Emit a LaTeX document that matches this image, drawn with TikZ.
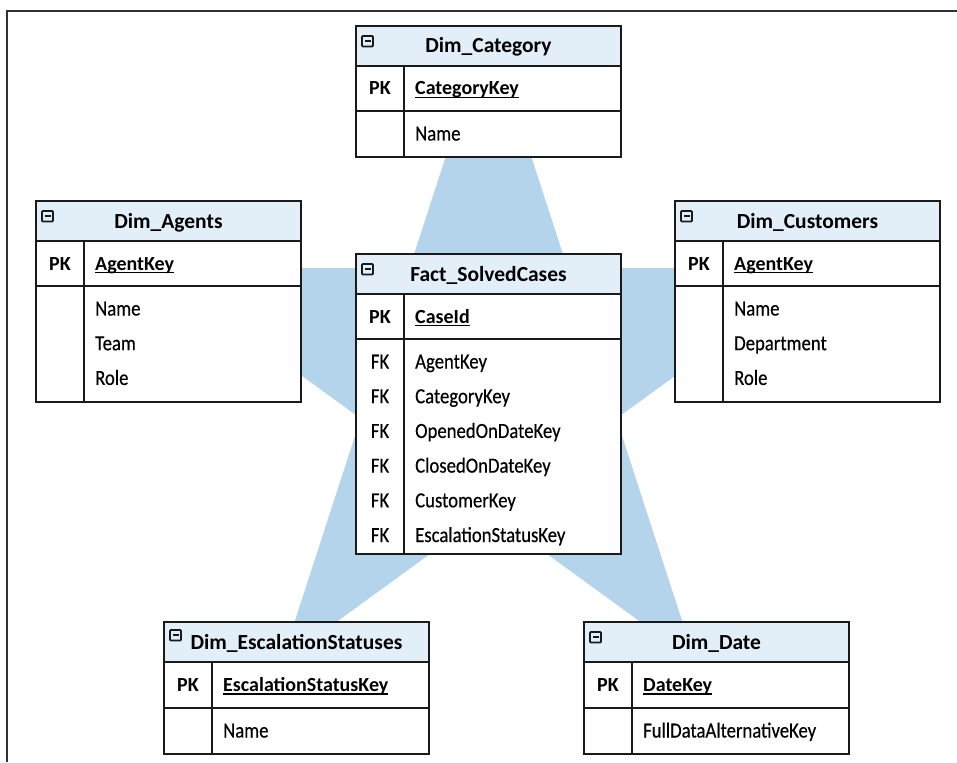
\documentclass[tikz,border=0pt]{standalone}
\usepackage{fontspec}
\setmainfont{Carlito}
\newfontfamily\fieldfont{Carlito}[FakeStretch=0.87, FakeBold=0.4]
\usetikzlibrary{positioning}
\definecolor{starblue}{HTML}{B3D4EA}
\definecolor{headblue}{HTML}{E2EEF8}
\definecolor{edge}{HTML}{1A1A1A}
\newsavebox\keybox
\newcommand{\ukey}[1]{\sbox\keybox{#1}\rlap{\rule[-3.2pt]{\wd\keybox}{1.6pt}}\usebox\keybox}
\tikzset{
  minus box/.pic={
    \draw[edge, line width=1.8pt, rounded corners=0.8pt] (0,0) rectangle (11,10.5);
    \draw[edge, line width=1.8pt] (2.5,5.25) -- (8.5,5.25);
  }
}

\begin{document}
\begin{tikzpicture}[x=1pt, y=-1pt,
  frame/.style={draw=edge!90, line width=1.4pt},
  box/.style={draw=edge, line width=1.8pt, minimum width=265pt, inner sep=0pt, outer sep=0pt},
  head/.style={box, fill=headblue, minimum height=40pt, font=\bfseries\fontsize{21.5}{24}\selectfont, text height=14pt, text depth=0pt},
  row/.style={box, fill=white},
  divider/.style={draw=edge, line width=1.8pt},
  colhead/.style={inner sep=0pt, text height=13pt, text depth=0pt, anchor=center, font=\fontsize{20}{24}\selectfont},
  key/.style={colhead, anchor=west, font=\bfseries\fontsize{20}{24}\selectfont},
  field/.style={colhead, anchor=west, font=\fieldfont\fontsize{21.5}{24}\selectfont}]
\useasboundingbox (0,0) rectangle (957,762);
\draw[frame] (7,762) -- (7,11) -- (957,11);

% star behind the tables
\coordinate (s1) at (488.5,25);
\coordinate (s2) at (153.7,268.2);
\coordinate (s3) at (281.6,661.8);
\coordinate (s4) at (695.4,661.8);
\coordinate (s5) at (823.3,268.2);
\fill[starblue] (s1) -- (s3) -- (s5) -- (s2) -- (s4) -- cycle;

% Dim_Category
\node[head] (cat) at (488.5,46) {Dim\_Category};
\node[row, minimum height=45pt, below=0pt of cat] (catpk) {};
\node[row, minimum height=46pt, below=0pt of catpk] (catrows) {};
\draw[divider] ([xshift=48pt]catpk.north west) -- ([xshift=48pt]catrows.south west);
\node[key, anchor=center] (catpkl) at ([xshift=24pt]catpk.west) {PK};
\node[key] (catkey) at ([xshift=59pt]catpk.west) {\ukey{CategoryKey}};
\node[field] (catf0) at ([shift={(59,23)}]catrows.north west) {Name};
\pic at ([shift={(6,10)}]cat.north west) {minus box};

% Dim_Agents
\node[head] (ag) at (168.5,221) {Dim\_Agents};
\node[row, minimum height=45pt, below=0pt of ag] (agpk) {};
\node[row, minimum height=116pt, below=0pt of agpk] (agrows) {};
\draw[divider] ([xshift=48pt]agpk.north west) -- ([xshift=48pt]agrows.south west);
\node[key, anchor=center] (agpkl) at ([xshift=24pt]agpk.west) {PK};
\node[key] (agkey) at ([xshift=59pt]agpk.west) {\ukey{AgentKey}};
\foreach \f [count=\i from 0] in {Name,Team,Role}
  \node[field] (agf\i) at ([shift={(59,23+34.7*\i)}]agrows.north west) {\f};
\pic at ([shift={(6,10)}]ag.north west) {minus box};

% Dim_Customers
\node[head] (cust) at (807.5,221) {Dim\_Customers};
\node[row, minimum height=45pt, below=0pt of cust] (custpk) {};
\node[row, minimum height=116pt, below=0pt of custpk] (custrows) {};
\draw[divider] ([xshift=48pt]custpk.north west) -- ([xshift=48pt]custrows.south west);
\node[key, anchor=center] (custpkl) at ([xshift=24pt]custpk.west) {PK};
\node[key] (custkey) at ([xshift=59pt]custpk.west) {\ukey{AgentKey}};
\foreach \f [count=\i from 0] in {Name,Department,Role}
  \node[field] (custf\i) at ([shift={(59,23+34.7*\i)}]custrows.north west) {\f};
\pic at ([shift={(6,10)}]cust.north west) {minus box};

% Fact_SolvedCases
\node[head] (fact) at (488.5,274) {Fact\_SolvedCases};
\node[row, minimum height=45pt, below=0pt of fact] (factpk) {};
\node[row, minimum height=215pt, below=0pt of factpk] (factrows) {};
\draw[divider] ([xshift=48pt]factpk.north west) -- ([xshift=48pt]factrows.south west);
\node[key, anchor=center] (factpkl) at ([xshift=24pt]factpk.west) {PK};
\node[key] (factkey) at ([xshift=59pt]factpk.west) {\ukey{CaseId}};
\foreach \f [count=\i from 0] in {AgentKey,CategoryKey,OpenedOnDateKey,ClosedOnDateKey,CustomerKey,EscalationStatusKey}{
  \node[field, anchor=center] (factfk\i) at ([shift={(24,23+34.7*\i)}]factrows.north west) {FK};
  \node[field] (factf\i) at ([shift={(59,23+34.7*\i)}]factrows.north west) {\f};
}
\pic at ([shift={(6,10)}]fact.north west) {minus box};

% Dim_EscalationStatuses
\node[head] (esc) at (296.5,642) {Dim\_EscalationStatuses};
\node[row, minimum height=46pt, below=0pt of esc] (escpk) {};
\node[row, minimum height=46pt, below=0pt of escpk] (escrows) {};
\draw[divider] ([xshift=48pt]escpk.north west) -- ([xshift=48pt]escrows.south west);
\node[key, anchor=center] (escpkl) at ([xshift=24pt]escpk.west) {PK};
\node[key] (esckey) at ([xshift=59pt]escpk.west) {\ukey{EscalationStatusKey}};
\node[field] (escf0) at ([shift={(59,23)}]escrows.north west) {Name};
\pic at ([shift={(6,8)}]esc.north west) {minus box};

% Dim_Date
\node[head] (date) at (716.5,642) {Dim\_Date};
\node[row, minimum height=46pt, below=0pt of date] (datepk) {};
\node[row, minimum height=46pt, below=0pt of datepk] (daterows) {};
\draw[divider] ([xshift=48pt]datepk.north west) -- ([xshift=48pt]daterows.south west);
\node[key, anchor=center] (datepkl) at ([xshift=24pt]datepk.west) {PK};
\node[key] (datekey) at ([xshift=59pt]datepk.west) {\ukey{DateKey}};
\node[field] (datef0) at ([shift={(59,23)}]daterows.north west) {FullDataAlternativeKey};
\pic at ([shift={(6,10)}]date.north west) {minus box};
\end{tikzpicture}
\end{document}
